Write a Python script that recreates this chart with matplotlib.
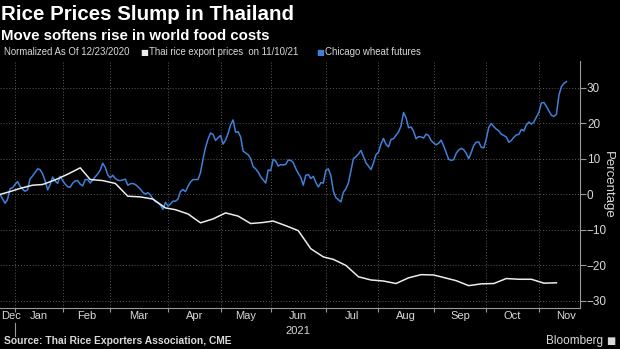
import numpy as np
import pandas as pd
import matplotlib
matplotlib.use("Agg")
from matplotlib import pyplot as plt
from matplotlib import transforms

# US exchange holidays, so the x axis runs on trading sessions
HOLIDAYS = ['2020-12-25', '2021-01-01', '2021-01-18', '2021-02-15',
            '2021-04-02', '2021-05-31', '2021-07-05', '2021-09-06']
START = '2020-12-23'

# Chicago wheat futures, % change vs 12/23/2020, one value per session
wheat = [
    0.0, -1.2, -2.5, -1.4, 1.6, 1.9, 2.8, 3.6, 2.3, 1.5,
    0.9, 1.3, 4.4, 5.2, 6.2, 7.2, 7.0, 5.8, 3.8, 1.3,
    2.8, 4.9, 3.8, 3.1, 5.1, 3.9, 2.9, 2.2, 2.0, 3.2,
    3.8, 3.9, 2.9, 2.4, 4.2, 4.2, 3.2, 4.1, 5.0, 5.8,
    6.9, 8.8, 7.6, 5.5, 4.7, 5.4, 4.5, 4.0, 3.9, 4.1,
    4.3, 2.6, 3.0, 3.1, 2.8, 2.2, 1.5, 0.6, 0.1, 0.5,
    -0.1, -1.3, -2.0, -2.4, -3.0, -4.2, -2.2, -3.3, -2.7, -1.9,
    -1.9, -1.3, 0.8, 1.4, 0.8, 2.3, 3.5, 4.2, 4.2, 4.2,
    6.2, 10.0, 13.2, 15.6, 17.3, 16.9, 15.2, 16.0, 16.6, 14.2,
    15.3, 17.2, 19.6, 21.0, 17.5, 17.7, 16.2, 12.2, 11.7, 11.2,
    10.1, 7.8, 7.2, 6.3, 5.0, 4.1, 3.2, 6.9, 6.7, 9.9,
    9.4, 8.0, 8.4, 8.3, 8.5, 9.7, 9.6, 9.0, 7.3, 5.9,
    4.8, 2.6, 5.4, 5.6, 4.5, 5.1, 3.4, 2.1, 3.3, 3.2,
    6.8, 7.2, 5.3, 1.0, -0.9, -1.5, -2.1, 0.6, 1.6, 3.2,
    6.6, 10.1, 10.6, 11.4, 12.4, 10.7, 8.9, 8.0, 7.0, 8.9,
    11.2, 11.9, 14.2, 15.8, 14.1, 13.4, 15.5, 15.7, 16.7, 17.6,
    19.3, 23.1, 21.6, 18.8, 19.0, 17.8, 15.7, 16.3, 16.2, 15.9,
    17.0, 16.6, 15.2, 14.5, 14.0, 14.4, 15.3, 13.7, 11.8, 9.9,
    9.6, 9.8, 11.6, 12.5, 13.0, 12.6, 11.6, 10.1, 11.8, 13.8,
    14.7, 14.8, 13.3, 13.1, 15.6, 18.9, 20.0, 19.1, 18.4, 17.9,
    17.0, 16.6, 16.2, 14.7, 15.2, 16.1, 16.8, 16.9, 18.3, 17.9,
    19.6, 20.4, 19.8, 20.4, 21.8, 23.1, 25.8, 25.9, 24.8, 23.5,
    22.3, 22.0, 22.6, 28.0, 30.4, 31.3, 31.8,
]

# Thai rice export prices, weekly (Wednesdays), % change vs 12/23/2020
rice = [
    0.0, 0.8, 1.7, 2.6, 2.8, 4.1, 5.7, 7.5, 4.2, 3.9,
    3.1, -0.5, -0.7, -1.3, -3.8, -4.3, -5.5, -8.0, -6.9, -5.2,
    -6.1, -8.2, -7.9, -7.5, -8.8, -10.2, -15.3, -17.6, -18.3, -20.0,
    -23.2, -24.1, -24.4, -25.1, -23.5, -22.6, -22.7, -23.4, -24.3, -25.7,
    -25.2, -25.1, -23.7, -23.9, -23.9, -25.0, -24.9,
]

months = ['Dec', 'Jan', 'Feb', 'Mar', 'Apr', 'May', 'Jun',
          'Jul', 'Aug', 'Sep', 'Oct', 'Nov']
month_starts = pd.date_range('2021-01-01', '2021-11-01', freq='MS')

YLIM = (-32, 37.6)
X_END = 231.4  # sessions shown after the start date

BG = 'black'
GRID = '#5a5a5a'
AXIS = '#9a9a9a'
TEXT = '#d9d9d9'
BLUE = '#3f80d8'
WHITE = '#ececec'
SANS = ['Liberation Sans', 'DejaVu Sans']


def session_pos(dates):
    d = np.array(pd.to_datetime(dates).strftime('%Y-%m-%d'), dtype='datetime64[D]')
    return np.busday_count(START, d, holidays=HOLIDAYS)


wheat_dates = pd.bdate_range(START, periods=len(wheat), freq='C', holidays=HOLIDAYS)
rice_dates = pd.date_range(START, periods=len(rice), freq='W-WED')

W, H = 620, 349
fig = plt.figure(figsize=(W / 100, H / 100), dpi=100, facecolor=BG)


def fx(x):
    return x / W


def fy(y):
    return 1 - y / H


ax = fig.add_axes([0, fy(308), fx(580), (308 - 61) / H], facecolor=BG)

ax.plot(session_pos(wheat_dates), wheat, color=BLUE, lw=1.1, zorder=3)
ax.plot(session_pos(rice_dates), rice, color=WHITE, lw=1.1, zorder=4)

ax.set_xlim(0, X_END)
ax.set_ylim(*YLIM)

# y axis on the right
ax.yaxis.tick_right()
ax.yaxis.set_label_position('right')
ax.set_yticks(np.arange(-30, 31, 10))
ax.tick_params(axis='y', length=4, width=0.8, color=AXIS, pad=1,
               labelsize=8.5, labelcolor=TEXT)
for lab in ax.get_yticklabels():
    lab.set_family(SANS)
ax.set_ylabel('Percentage', rotation=270, color=TEXT, fontsize=9.5,
              family=SANS, labelpad=5)

# x axis: ticks at month starts, labels centred in each month
starts = session_pos(month_starts)
ax.set_xticks(starts)
ax.set_xticklabels([])
ax.tick_params(axis='x', which='major', length=3, width=0.8, color=AXIS)
edges = np.concatenate([[0], starts, [X_END]])
mids = (edges[:-1] + edges[1:]) / 2
mids[0] = 4.5
mids[-1] = 225.8
ax.set_xticks(mids, minor=True)
ax.set_xticklabels(months, minor=True)
ax.tick_params(axis='x', which='minor', length=0, pad=2, labelsize=8,
               labelcolor=TEXT)
for lab in ax.get_xticklabels(minor=True):
    lab.set_family(SANS)

# year marker under the January boundary
trans = transforms.blended_transform_factory(ax.transData, ax.transAxes)
ax.axvline(starts[0], ymin=-0.115, ymax=-0.06, color=AXIS, lw=0.8, clip_on=False)
ax.text((starts[0] + X_END) / 2, -0.092, '2021', transform=trans, ha='center',
        va='center', color=TEXT, fontsize=8, family=SANS)

ax.grid(True, which='major', color=GRID, linestyle=(0, (1, 2)), linewidth=0.7)
ax.set_axisbelow(True)
for side in ['left', 'top']:
    ax.spines[side].set_visible(False)
for side in ['bottom', 'right']:
    ax.spines[side].set_color(AXIS)
    ax.spines[side].set_linewidth(0.8)

# titles and legend row
fig.text(fx(1), fy(14), 'Rice Prices Slump in Thailand', color='white',
         fontsize=14.8, fontweight='bold', family=SANS, va='center')
fig.text(fx(1), fy(36), 'Move softens rise in world food costs', color='white',
         fontsize=10.8, fontweight='bold', family=SANS, va='center')
fig.text(fx(4), fy(52), 'Normalized As Of 12/23/2020', color=TEXT,
         fontsize=6.9, family=SANS, va='center')
fig.text(fx(140), fy(52), '\u25a0', color=WHITE, fontsize=6, va='center')
fig.text(fx(149), fy(52), 'Thai rice export prices  on 11/10/21', color=TEXT,
         fontsize=6.9, family=SANS, va='center')
fig.text(fx(316), fy(52), '\u25a0', color=BLUE, fontsize=6, va='center')
fig.text(fx(325), fy(52), 'Chicago wheat futures', color=TEXT,
         fontsize=6.9, family=SANS, va='center')

fig.text(fx(4), fy(341), 'Source: Thai Rice Exporters Association, CME',
         color=TEXT, fontsize=7.35, fontweight='bold', family=SANS, va='center')
fig.text(fx(603), fy(341), 'Bloomberg', color=TEXT, fontsize=8.5,
         family=SANS, va='center', ha='right')
fig.text(fx(615), fy(341), '\u25a0', color=TEXT, fontsize=7, va='center',
         ha='right')

fig.savefig('out.png', dpi=100, facecolor=BG)
